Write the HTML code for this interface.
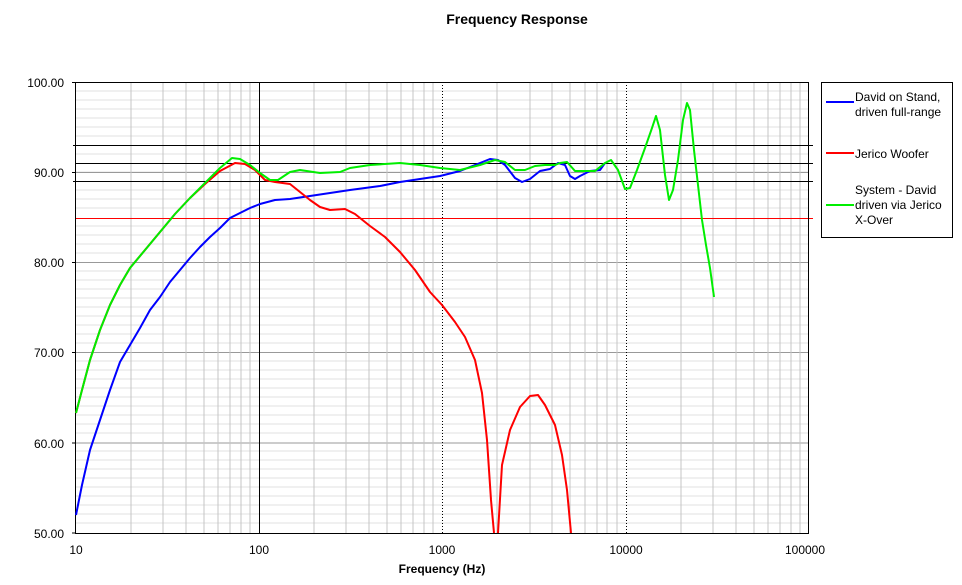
<!DOCTYPE html>
<html><head><meta charset="utf-8"><style>
html,body{margin:0;padding:0;background:#fff;}
svg{display:block;font-family:"Liberation Sans",Arial,sans-serif;}
</style></head><body>
<svg width="962" height="585" viewBox="0 0 962 585" xmlns="http://www.w3.org/2000/svg">
<rect width="962" height="585" fill="#fff"/>
<text x="517" y="24" font-size="14" font-weight="bold" text-anchor="middle">Frequency Response</text>
<g stroke="#e2e2e2" stroke-width="1">
<path d="M76 91H809M76 100H809M76 109H809M76 118H809M76 127H809M76 136H809M76 154H809M76 172H809M76 190H809M76 199H809M76 208H809M76 226H809M76 235H809M76 244H809M76 253H809M76 271H809M76 280H809M76 289H809M76 298H809M76 307H809M76 316H809M76 325H809M76 334H809M76 343H809M76 361H809M76 370H809M76 379H809M76 388H809M76 397H809M76 406H809M76 415H809M76 424H809M76 433H809M76 451H809M76 460H809M76 469H809M76 478H809M76 487H809M76 496H809M76 505H809M76 514H809M76 523H809"/>
</g>
<g stroke="#999" stroke-width="1">
<path d="M76 172.5H809M76 262.5H809M76 352.5H809M76 443H809"/>
</g>
<g stroke="#c4c4c4" stroke-width="1">
<path d="M131 82V533M163 82V533M186 82V533M204 82V533M218 82V533M230 82V533M241 82V533M250 82V533
M314 82V533M346 82V533M369 82V533M387 82V533M401 82V533M413 82V533M424 82V533M433 82V533
M497 82V533M530 82V533M552 82V533M570 82V533M585 82V533M597 82V533M607 82V533M617 82V533
M681 82V533M713 82V533M736 82V533M754 82V533M768 82V533M780 82V533M791 82V533M800 82V533"/>
</g>
<line x1="259.5" y1="82" x2="259.5" y2="533" stroke="#000"/>
<line x1="442.5" y1="82" x2="442.5" y2="533" stroke="#000" stroke-dasharray="1,2"/>
<line x1="626.5" y1="82" x2="626.5" y2="533" stroke="#000" stroke-dasharray="1,2"/>
<g stroke="#000" stroke-width="1">
<path d="M73 145.5H813M76 163.5H813M73 181.5H813"/>
</g>
<line x1="76" y1="218.5" x2="813" y2="218.5" stroke="#f00"/>
<rect x="75.5" y="82.5" width="733" height="451" fill="none" stroke="#000"/>
<g stroke="#000"><path d="M72 82.5H76M72 172.5H76M72 262.5H76M72 352.5H76M72 443H76M72 533H76"/></g>
<g font-size="12" text-anchor="end">
<text x="64" y="87">100.00</text><text x="64" y="177">90.00</text><text x="64" y="267">80.00</text>
<text x="64" y="357">70.00</text><text x="64" y="448">60.00</text><text x="64" y="538">50.00</text>
</g>
<g font-size="12" text-anchor="middle">
<text x="76" y="554">10</text><text x="259" y="554">100</text><text x="442" y="554">1000</text>
<text x="626" y="554">10000</text><text x="805" y="554">100000</text>
</g>
<text x="442" y="573" font-size="12" font-weight="bold" text-anchor="middle">Frequency (Hz)</text>
<g fill="none" stroke-width="2" stroke-linejoin="round">
<polyline stroke="#0000ff" points="76,515 82,485 90,450 100,420 110,390 120,362 130,345 140,328 150,310 160,297 170,282 180,270 190,258 200,247 210,237 220,228 230,218 240,213 250,208 260,204 275,200 290,199 310,196 330,193 350,190 380,186 400,182 420,179 440,176 460,171 475,165 490,159 498,160 505,165 515,178 522,182 530,179 540,171 550,169 558,163 565,165 570,176 575,179 580,176 590,171 600,170 605,163"/>
<polyline stroke="#ff0000" points="76,413 82,390 90,360 100,330 110,305 120,285 130,268 145,250 160,232 175,214 190,198 205,184 220,171 235,163 245,164 255,170 265,180 275,182 290,184 300,192 310,200 320,207 330,210 345,209 355,214 370,226 385,237 400,252 415,270 430,292 442,305 455,322 465,337 475,360 482,393 487,440 491,500 494,533"/>
<polyline stroke="#ff0000" points="498,533 502,465 510,430 520,407 530,396 538,395 545,405 555,425 562,455 567,490 571,533"/>
<polyline stroke="#00ee00" points="76,413 82,390 90,360 100,330 110,305 120,285 130,268 145,250 160,232 175,214 190,198 205,183 220,168 232,158 240,159 250,165 260,173 270,180 278,180 290,172 300,170 320,173 340,172 350,168 370,165 400,163 420,165 440,168 460,170 480,165 495,160 505,162 515,170 525,170 535,166 545,165 555,165 560,163 567,162 575,171 585,171 595,171 605,163 611,160 618,170 625,189 630,188 637,170 645,148 652,128 656,116 660,130 665,175 669,200 673,190 678,160 683,120 687,103 690,110 694,150 698,185 702,220 706,245 710,268 714,297"/>
</g>
<rect x="821.5" y="82.5" width="131" height="155" fill="#fff" stroke="#000"/>
<g stroke-width="2">
<line x1="826" y1="102" x2="854" y2="102" stroke="#0000ff"/>
<line x1="826" y1="153" x2="854" y2="153" stroke="#ff0000"/>
<line x1="826" y1="205" x2="854" y2="205" stroke="#00ee00"/>
</g>
<g font-size="12">
<text x="855" y="101">David on Stand,</text><text x="855" y="116">driven full-range</text>
<text x="855" y="158">Jerico Woofer</text>
<text x="855" y="194">System - David</text><text x="855" y="209">driven via Jerico</text><text x="855" y="224">X-Over</text>
</g>
</svg>
</body></html>
